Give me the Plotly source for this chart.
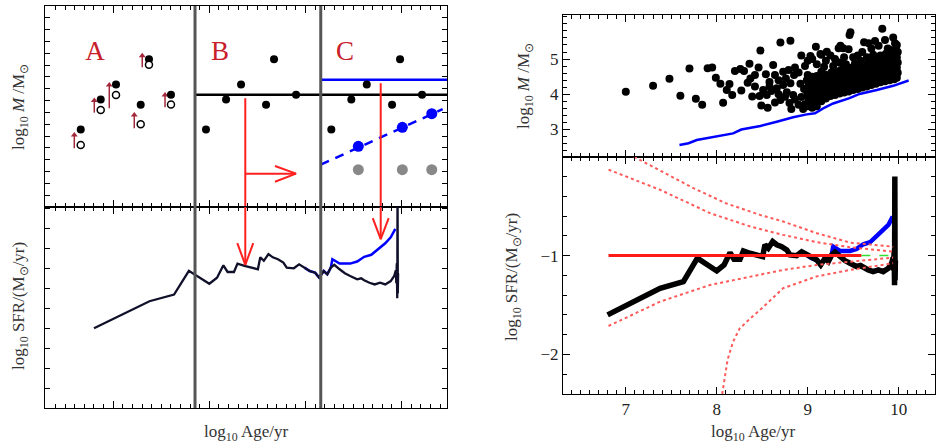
import plotly.graph_objects as go

# ---------------- data : left-top schematic (arbitrary mass units) ----------------
a_age = [6.662, 6.870, 7.029, 7.286, 7.372, 7.601]
b_age = [7.965, 8.174, 8.330, 8.590, 8.673, 8.902]
c_age = [9.269, 9.477, 9.638, 9.901, 9.984, 10.213]
mass_filled = [6.55, 9.10, 10.35, 8.65, 12.50, 9.50]
mass_open = [5.25, 8.20, 9.48, 7.00, 12.04, 8.66]
corr_age = [6.595, 6.803, 6.959, 7.219, 7.302, 7.539]
corr_from = [4.97, 7.98, 8.35, 6.66, 11.82, 8.43]
corr_to = [6.29, 9.20, 10.52, 7.98, 13.00, 9.67]
blue_pt_age = [9.550, 10.008, 10.314]
blue_pt_mass = [5.13, 6.74, 7.89]
grey_pt_mass = [3.16, 3.16, 3.16]
limit_age = [9.159, 10.427]
limit_mass = [3.58, 8.27]
mean_age = [7.851, 10.473]
mean_mass = [9.50, 9.50]
max_age = [9.159, 10.473]
max_mass = [10.77, 10.77]
split_age = [7.851, 9.159]
labels = ["A", "B", "C"]
label_age = [6.81, 8.111, 9.412]
label_mass = [13.0, 13.0, 13.0]

# ---------------- data : SFR history ----------------
sfr_age = [6.80, 7.377, 7.633, 7.787, 8.00, 8.08, 8.146, 8.19, 8.256, 8.293, 8.366,
           8.43, 8.505, 8.53, 8.567, 8.615, 8.66, 8.714, 8.77, 8.805, 8.879, 8.934,
           8.989, 9.044, 9.10, 9.143, 9.19, 9.227, 9.264, 9.30, 9.355, 9.41, 9.465,
           9.538, 9.58, 9.611, 9.666, 9.72, 9.777, 9.83, 9.887, 9.923, 9.94, 9.945,
           9.95, 9.955, 9.958, 9.961, 9.964]
sfr_val = [-1.60, -1.33, -1.263, -1.026, -1.155, -1.094, -0.97, -1.037, -1.037, -0.953,
           -0.976, -0.99, -1.01, -0.89, -0.925, -0.858, -0.89, -0.909, -0.942, -0.993,
           -1.0, -0.96, -0.993, -1.027, -1.044, -1.094, -1.027, -1.06, -0.993, -0.965,
           -1.01, -1.05, -1.077, -1.11, -1.10, -1.12, -1.145, -1.162, -1.145, -1.162,
           -1.128, -1.077, -1.02, -1.15, -0.95, -1.30, -0.20, -1.25, -1.05]
sfr_blue_age = [8.989, 9.044, 9.10, 9.143, 9.19, 9.227, 9.264, 9.28, 9.355, 9.465,
                9.538, 9.611, 9.685, 9.758, 9.83, 9.887, 9.935]
sfr_blue_val = [-0.993, -1.027, -1.044, -1.094, -1.027, -1.06, -0.993, -0.909, -0.953,
                -0.953, -0.932, -0.885, -0.865, -0.807, -0.75, -0.69, -0.605]
const_age = [6.81, 9.59]
const_val = [-1.0, -1.0]
ext_age = [9.59, 9.98]
ext_val = [-1.0, -1.0]
u2_age = [7.09, 7.377, 7.743, 8.10, 8.476, 8.73, 9.10, 9.465, 9.70, 9.94]
u2_val = [0.0, -0.14, -0.317, -0.47, -0.588, -0.655, -0.773, -0.868, -0.89, -0.91]
u1_age = [6.81, 7.377, 7.926, 8.37, 8.73, 9.10, 9.465, 9.94]
u1_val = [-0.13, -0.334, -0.57, -0.706, -0.79, -0.864, -0.915, -0.96]
l1_age = [6.81, 7.377, 7.926, 8.37, 8.73, 9.10, 9.465, 9.94]
l1_val = [-1.712, -1.466, -1.297, -1.21, -1.145, -1.094, -1.06, -1.02]
l2_age = [8.06, 8.12, 8.18, 8.25, 8.37, 8.476, 8.73, 9.10, 9.465, 9.94]
l2_val = [-2.40, -2.05, -1.87, -1.74, -1.634, -1.55, -1.33, -1.21, -1.145, -1.077]

# ---------------- data : cluster masses ----------------
sparse_pts = [
    (7.00, 4.07), (7.30, 4.24), (7.48, 4.44), (7.60, 3.96), (7.70, 4.73), (7.77, 3.87),
    (7.84, 3.70), (7.90, 4.74), (7.95, 4.76), (7.99, 4.47), (8.04, 4.30), (8.07, 3.76),
    (8.11, 4.12), (8.14, 4.29), (8.17, 3.98), (8.20, 4.66), (8.26, 4.72), (8.30, 4.66),
    (8.27, 4.11), (8.36, 4.87), (8.34, 4.33), (8.37, 4.45), (8.42, 4.55), (8.46, 4.76),
    (8.48, 5.24), (8.39, 3.94), (8.47, 3.95), (8.42, 4.22), (8.49, 3.68), (8.56, 3.62),
    (8.51, 4.12), (8.55, 3.98), (8.60, 4.09), (8.66, 4.17), (8.62, 4.83), (8.54, 4.57),
    (8.64, 4.55), (8.73, 4.64), (8.79, 4.69), (8.86, 4.76), (8.70, 5.47), (8.81, 5.52),
    (8.64, 3.77), (8.70, 3.84), (8.75, 3.93), (8.82, 3.58), (8.90, 3.70), (8.77, 4.06),
    (8.84, 3.98), (8.81, 4.31), (8.73, 4.26), (8.93, 5.10), (9.09, 5.35), (8.58, 4.35),
    (8.68, 4.40), (8.76, 4.45), (8.85, 4.55), (8.90, 4.62), (8.68, 4.00), (8.80, 3.75),
    (8.86, 3.85), (8.58, 4.22), (8.92, 4.30), (8.96, 4.15), (8.93, 3.92), (8.97, 3.72),
    (8.95, 3.58),
]
upper_pts = [
    (9.36, 5.38), (9.39, 5.31), (9.45, 5.28), (9.34, 5.31), (9.47, 5.76), (9.46, 5.68),
    (9.62, 5.48), (9.67, 5.45), (9.74, 5.51), (9.82, 5.86), (9.85, 5.54), (9.94, 5.61),
    (9.98, 5.40), (9.96, 5.45), (9.92, 5.25), (9.97, 5.28), (9.88, 5.30), (9.78, 5.38),
    (9.70, 5.30), (9.55, 5.10), (9.60, 5.20), (9.50, 5.05), (9.40, 5.05), (9.30, 5.00),
    (9.25, 5.10), (9.20, 4.95), (9.15, 5.12), (9.05, 5.00), (9.00, 4.95), (8.97, 4.80),
    (9.10, 4.85), (9.18, 4.78), (9.28, 4.80), (9.35, 4.90), (9.42, 4.85), (9.52, 4.88),
    (9.58, 4.95), (9.65, 5.05), (9.72, 5.12), (9.80, 5.10), (9.86, 5.15), (9.90, 5.25),
    (9.03, 5.09), (9.14, 5.14), (9.21, 5.21),
]
dense_pts = [
    (9.00, 3.66), (9.01, 3.80), (8.99, 3.95), (9.00, 4.10), (9.01, 4.25), (8.99, 4.40), (9.00, 4.55),
    (9.05, 3.62), (9.04, 3.74), (9.06, 3.88), (9.05, 4.03), (9.04, 4.18), (9.06, 4.33), (9.05, 4.50),
    (9.10, 3.66), (9.11, 3.79), (9.09, 3.92), (9.10, 4.06), (9.11, 4.21), (9.09, 4.37), (9.10, 4.52),
    (9.15, 3.80), (9.14, 3.93), (9.16, 4.06), (9.15, 4.20), (9.14, 4.35), (9.16, 4.50), (9.15, 4.64),
    (9.20, 3.88), (9.21, 4.01), (9.19, 4.14), (9.20, 4.28), (9.21, 4.42), (9.19, 4.56),
    (9.25, 3.95), (9.24, 4.07), (9.26, 4.20), (9.25, 4.34), (9.24, 4.48), (9.26, 4.62),
    (9.30, 3.98), (9.31, 4.11), (9.29, 4.24), (9.30, 4.38), (9.31, 4.52), (9.29, 4.65),
    (9.35, 4.02), (9.34, 4.15), (9.36, 4.28), (9.35, 4.41), (9.34, 4.55), (9.36, 4.68),
    (9.40, 4.05), (9.41, 4.18), (9.39, 4.31), (9.40, 4.44), (9.41, 4.58), (9.39, 4.71),
    (9.45, 4.08), (9.44, 4.21), (9.46, 4.34), (9.45, 4.47), (9.44, 4.61), (9.46, 4.73),
    (9.50, 4.12), (9.51, 4.25), (9.49, 4.38), (9.50, 4.51), (9.51, 4.64), (9.49, 4.76),
    (9.55, 4.15), (9.54, 4.28), (9.56, 4.41), (9.55, 4.54), (9.54, 4.67), (9.56, 4.79),
    (9.60, 4.19), (9.61, 4.32), (9.59, 4.45), (9.60, 4.58), (9.61, 4.71), (9.59, 4.84),
    (9.65, 4.22), (9.64, 4.35), (9.66, 4.48), (9.65, 4.62), (9.64, 4.76), (9.66, 4.89),
    (9.70, 4.26), (9.71, 4.39), (9.69, 4.52), (9.70, 4.66), (9.71, 4.80), (9.69, 4.93),
    (9.75, 4.30), (9.74, 4.43), (9.76, 4.56), (9.75, 4.70), (9.74, 4.84), (9.76, 4.97),
    (9.80, 4.34), (9.81, 4.47), (9.79, 4.60), (9.80, 4.74), (9.81, 4.88), (9.79, 5.02),
    (9.85, 4.37), (9.84, 4.50), (9.86, 4.64), (9.85, 4.78), (9.84, 4.92), (9.86, 5.06),
    (9.90, 4.40), (9.91, 4.54), (9.89, 4.68), (9.90, 4.82), (9.91, 4.96), (9.89, 5.10),
    (9.95, 4.43), (9.94, 4.57), (9.96, 4.71), (9.95, 4.86), (9.94, 5.00), (9.96, 5.14),
    (9.98, 4.47), (9.99, 4.61), (9.98, 4.75), (9.99, 4.90), (9.98, 5.05), (9.99, 5.20),
]
limit_line_age = [7.59, 7.69, 7.78, 8.00, 8.18, 8.27, 8.48, 8.66, 8.84, 8.99, 9.08,
                  9.17, 9.28, 9.46, 9.57, 9.76, 9.94, 10.11]
limit_line_mass = [2.56, 2.61, 2.70, 2.80, 2.89, 3.00, 3.10, 3.22, 3.35, 3.43, 3.46,
                   3.60, 3.74, 3.89, 4.01, 4.12, 4.24, 4.39]

# ---------------- style ----------------
SERIF = "Liberation Serif"
RED = "#ff2020"
DARKRED = "#a3283a"
BLUE = "#0000ff"
NAVY = "#10102a"

fig = go.Figure()

# ---- left top
fig.add_trace(go.Scatter(x=mean_age, y=mean_mass, mode="lines",
                         line=dict(color="black", width=2.5), xaxis="x", yaxis="y"))
fig.add_trace(go.Scatter(x=max_age, y=max_mass, mode="lines",
                         line=dict(color=BLUE, width=2.5), xaxis="x", yaxis="y"))
fig.add_trace(go.Scatter(x=limit_age, y=limit_mass, mode="lines",
                         line=dict(color=BLUE, width=2.5, dash="9px,7px"), xaxis="x", yaxis="y"))

# small correction arrows (shaft + head)
shaft_x, shaft_y = [], []
for xa, y0, y1 in zip(corr_age, corr_from, corr_to):
    shaft_x += [xa, xa, None]
    shaft_y += [y0, y1 - 0.25, None]
fig.add_trace(go.Scatter(x=shaft_x, y=shaft_y, mode="lines",
                         line=dict(color=DARKRED, width=1.5), xaxis="x", yaxis="y"))
fig.add_trace(go.Scatter(x=corr_age, y=[v - 0.2 for v in corr_to], mode="markers",
                         marker=dict(symbol="triangle-up", color=DARKRED, size=6),
                         xaxis="x", yaxis="y"))

fig.add_trace(go.Scatter(x=a_age + b_age + c_age, y=mass_filled * 3, mode="markers",
                         marker=dict(color="black", size=8), xaxis="x", yaxis="y"))
fig.add_trace(go.Scatter(x=a_age, y=mass_open, mode="markers",
                         marker=dict(color="white", size=7, line=dict(color="black", width=1.5)),
                         xaxis="x", yaxis="y"))
fig.add_trace(go.Scatter(x=blue_pt_age, y=blue_pt_mass, mode="markers",
                         marker=dict(color=BLUE, size=11), xaxis="x", yaxis="y"))
fig.add_trace(go.Scatter(x=blue_pt_age, y=grey_pt_mass, mode="markers",
                         marker=dict(color="#888888", size=11), xaxis="x", yaxis="y"))
fig.add_trace(go.Scatter(x=label_age, y=label_mass, mode="text", text=labels,
                         textfont=dict(family=SERIF, size=27, color="#c8202a"),
                         xaxis="x", yaxis="y"))

# big red arrows (schematic)
arr1_x, arr2_x = 8.374, 9.783
fig.add_trace(go.Scatter(x=[arr1_x, arr1_x], y=[9.2, 0], mode="lines",
                         line=dict(color=RED, width=2), xaxis="x", yaxis="y"))
fig.add_trace(go.Scatter(x=[arr2_x, arr2_x], y=[10.47, 0], mode="lines",
                         line=dict(color=RED, width=2), xaxis="x", yaxis="y"))
fig.add_trace(go.Scatter(x=[arr1_x, 8.902], y=[2.82, 2.82], mode="lines",
                         line=dict(color=RED, width=2), xaxis="x", yaxis="y"))
fig.add_trace(go.Scatter(x=[8.683, 8.902, 8.683], y=[3.47, 2.82, 2.14], mode="lines",
                         line=dict(color=RED, width=2), xaxis="x", yaxis="y"))

# ---- left bottom
fig.add_trace(go.Scatter(x=sfr_blue_age, y=sfr_blue_val, mode="lines",
                         line=dict(color=BLUE, width=2.5), xaxis="x2", yaxis="y2"))
fig.add_trace(go.Scatter(x=sfr_age, y=sfr_val, mode="lines",
                         line=dict(color=NAVY, width=2.3), xaxis="x2", yaxis="y2"))
fig.add_trace(go.Scatter(x=[arr1_x, arr1_x], y=[-0.3, -0.966], mode="lines",
                         line=dict(color=RED, width=2), xaxis="x2", yaxis="y2"))
fig.add_trace(go.Scatter(x=[arr1_x - 0.083, arr1_x, arr1_x + 0.083], y=[-0.748, -0.966, -0.748],
                         mode="lines", line=dict(color=RED, width=2), xaxis="x2", yaxis="y2"))
fig.add_trace(go.Scatter(x=[arr2_x, arr2_x], y=[-0.3, -0.708], mode="lines",
                         line=dict(color=RED, width=2), xaxis="x2", yaxis="y2"))
fig.add_trace(go.Scatter(x=[arr2_x - 0.083, arr2_x, arr2_x + 0.083], y=[-0.498, -0.708, -0.498],
                         mode="lines", line=dict(color=RED, width=2), xaxis="x2", yaxis="y2"))

# ---- right top
all_pts = sparse_pts + upper_pts + dense_pts
fig.add_trace(go.Scatter(x=[p[0] for p in all_pts], y=[p[1] for p in all_pts], mode="markers",
                         marker=dict(color="black", size=8), xaxis="x3", yaxis="y3"))
fig.add_trace(go.Scatter(x=limit_line_age, y=limit_line_mass, mode="lines",
                         line=dict(color=BLUE, width=2.5), xaxis="x3", yaxis="y3"))

# ---- right bottom
fig.add_trace(go.Scatter(x=sfr_blue_age, y=sfr_blue_val, mode="lines",
                         line=dict(color=BLUE, width=4.5), xaxis="x4", yaxis="y4"))
fig.add_trace(go.Scatter(x=sfr_age, y=sfr_val, mode="lines",
                         line=dict(color="black", width=5.5), xaxis="x4", yaxis="y4"))
fig.add_trace(go.Scatter(x=ext_age, y=ext_val, mode="lines",
                         line=dict(color="#33dd33", width=1.5, dash="dash"), xaxis="x4", yaxis="y4"))
fig.add_trace(go.Scatter(x=const_age, y=const_val, mode="lines",
                         line=dict(color="#ff1a1a", width=3), xaxis="x4", yaxis="y4"))
for ax_, ay_ in [(u2_age, u2_val), (u1_age, u1_val), (l1_age, l1_val), (l2_age, l2_val)]:
    fig.add_trace(go.Scatter(x=ax_, y=ay_, mode="lines",
                             line=dict(color="#ff5a5a", width=2, dash="dot"),
                             xaxis="x4", yaxis="y4"))

# vertical split lines across left panels
shapes = []
for xv in split_age:
    shapes.append(dict(type="line", xref="x", yref="paper", x0=xv, x1=xv,
                       y0=0.0872, y1=0.9866, line=dict(color="#555555", width=3)))

annotations = []
title_font = dict(family=SERIF, size=17, color="#333333")
m_title = "log<sub>10</sub> <i>M</i> /M<sub>⊙</sub>"
s_title = "log<sub>10</sub> SFR/(M<sub>⊙</sub>/yr)"
a_title = "log<sub>10</sub> Age/yr"
for txt, px, py, ang in [(m_title, 0.0213, 0.7606, -90), (s_title, 0.0213, 0.3154, -90),
                         (a_title, 0.2625, 0.0313, 0), (m_title, 0.5603, 0.8076, -90),
                         (s_title, 0.5475, 0.3803, -90), (a_title, 0.8036, 0.0313, 0)]:
    annotations.append(dict(text=txt, x=px, y=py, xref="paper", yref="paper", showarrow=False,
                            textangle=ang, xanchor="center", yanchor="middle", font=title_font))

tick_font = dict(family=SERIF, size=17, color="#222222")
base = dict(showline=True, linecolor="black", linewidth=1.2, mirror="allticks",
            ticks="inside", tickcolor="black", showgrid=False, zeroline=False,
            tickfont=tick_font)

LX = [0.0480, 0.4771]
RX = [0.6009, 0.9979]
fig.update_layout(
    width=937, height=447, margin=dict(l=0, r=0, t=0, b=0),
    paper_bgcolor="white", plot_bgcolor="white", showlegend=False,
    shapes=shapes, annotations=annotations,
    xaxis=dict(**base, domain=LX, range=[6.29, 10.473], anchor="y", tick0=0, dtick=1,
               ticklen=7, showticklabels=False,
               minor=dict(ticks="inside", dtick=0.1, ticklen=4, tickcolor="black")),
    yaxis=dict(**base, domain=[0.5369, 0.9866], range=[0, 17], anchor="x", tick0=0, dtick=1,
               ticklen=5, showticklabels=False),
    xaxis2=dict(**base, domain=LX, range=[6.29, 10.473], anchor="y2", tick0=0, dtick=1,
                ticklen=7, showticklabels=False,
                minor=dict(ticks="inside", dtick=0.1, ticklen=4, tickcolor="black")),
    yaxis2=dict(**base, domain=[0.0872, 0.5369], range=[-2.40, -0.386], anchor="x2",
                tick0=0, dtick=0.2, ticklen=5, showticklabels=False),
    xaxis3=dict(**base, domain=RX, range=[6.31, 10.40], anchor="y3", tick0=0, dtick=1,
                ticklen=7, showticklabels=False,
                minor=dict(ticks="inside", dtick=0.1, ticklen=4, tickcolor="black")),
    yaxis3=dict(**base, domain=[0.6488, 0.9664], range=[2.22, 6.25], anchor="x3",
                tickmode="array", tickvals=[3, 4, 5], ticklen=7,
                minor=dict(ticks="inside", tickmode="linear", tick0=0, dtick=0.2, ticklen=4,
                           tickcolor="black")),
    xaxis4=dict(**base, domain=RX, range=[6.31, 10.40], anchor="y4", tick0=0, dtick=1,
                ticklen=7,
                minor=dict(ticks="inside", dtick=0.1, ticklen=4, tickcolor="black")),
    yaxis4=dict(**base, domain=[0.1186, 0.6488], range=[-2.40, -0.002], anchor="x4",
                tickmode="array", tickvals=[-2, -1], ticklen=7,
                minor=dict(ticks="inside", tickmode="linear", tick0=0, dtick=0.2, ticklen=4,
                           tickcolor="black")),
)

fig.write_html("out.html", config={"displayModeBar": False},
               post_script="document.body.style.margin='0';document.body.style.overflow='hidden';")
